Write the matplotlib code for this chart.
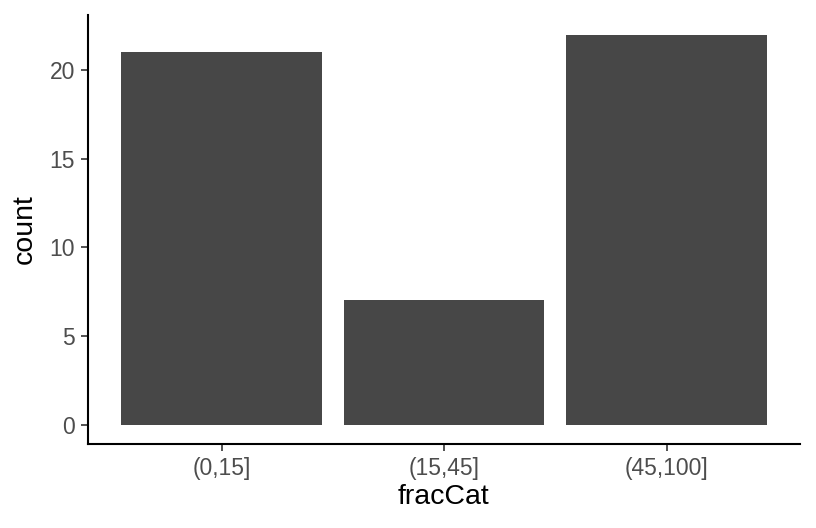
import matplotlib
matplotlib.use("Agg")
import matplotlib.pyplot as plt

categories = ["(0,15]", "(15,45]", "(45,100]"]
counts = [21, 7, 22]
yticks = [0, 5, 10, 15, 20]

plt.rcParams['font.family'] = ['Liberation Sans', 'DejaVu Sans']

fig = plt.figure(figsize=(8.16, 5.28), dpi=100)
ax = fig.add_axes([88/816, (528-444)/528, 712/816, (444-15)/528])

pos = list(range(1, len(categories) + 1))
ax.bar(pos, counts, width=0.9, color="#474747")
ax.set_xlim(0.4, len(categories) + 0.6)
ax.set_ylim(-0.05 * max(counts), 1.05 * max(counts))
ax.set_xticks(pos)
ax.set_xticklabels(categories)
ax.set_yticks(yticks)
ax.tick_params(axis='both', labelsize=16.5, labelcolor="#4D4D4D", color="#333333",
               length=5, width=1.2, pad=4.5)
for s in ["top", "right"]:
    ax.spines[s].set_visible(False)
for s in ["left", "bottom"]:
    ax.spines[s].set_linewidth(1.5)
    ax.spines[s].set_color("black")
ax.set_xlabel("fracCat", fontsize=20.5, labelpad=3)
ax.set_ylabel("count", fontsize=20.5, labelpad=8)

fig.savefig("out.png", dpi=100)
